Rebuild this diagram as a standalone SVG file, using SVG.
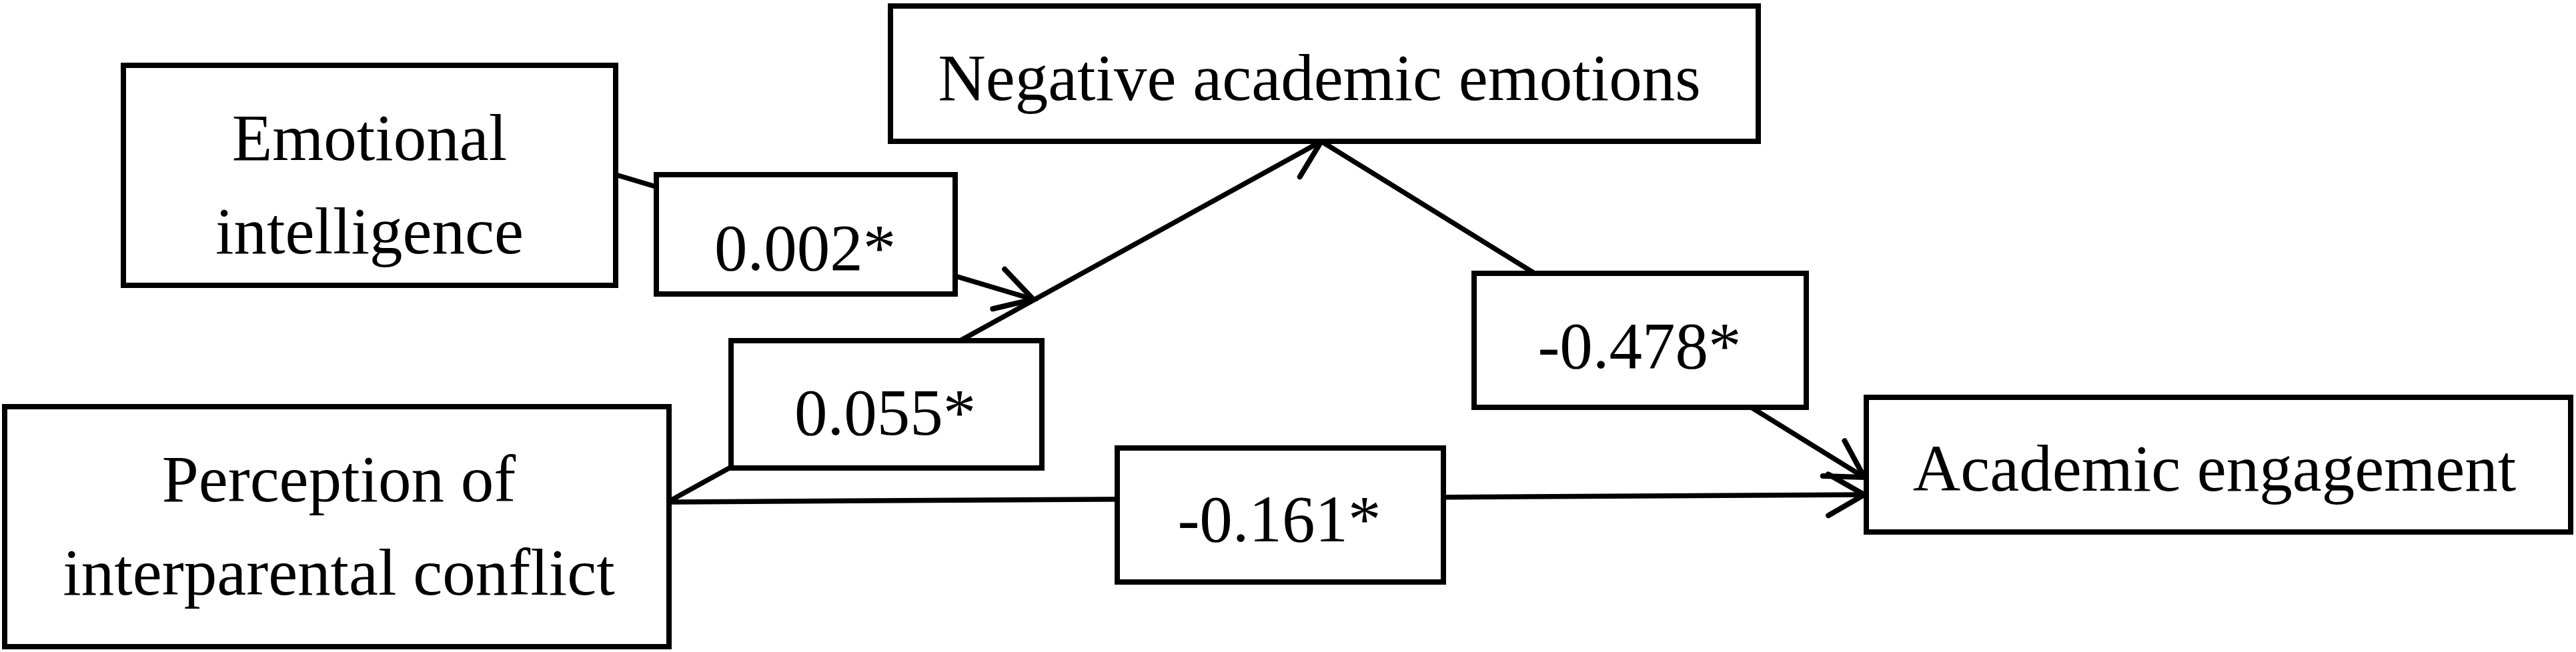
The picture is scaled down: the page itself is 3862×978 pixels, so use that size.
<svg xmlns="http://www.w3.org/2000/svg" width="3862" height="978" viewBox="0 0 3862 978">
<style>
.box{fill:#fff;stroke:#000;stroke-width:8}
.lbl{font-family:"Liberation Serif","Times New Roman",serif;font-size:99px;fill:#000;text-anchor:middle}
.conn{stroke:#000;stroke-width:7.5;fill:none}
</style>
<defs>
<marker id="arr" markerUnits="userSpaceOnUse" viewBox="-66 -42 76 84" markerWidth="76" markerHeight="84" refX="0" refY="0" orient="auto">
<path d="M-54,-31 L0,0 L-54,31" fill="none" stroke="#000" stroke-width="8" stroke-linecap="round" stroke-linejoin="miter"/>
</marker>
</defs>
<rect width="3862" height="978" fill="#fff"/>
<g id="connectors">
<line class="conn" x1="923" y1="262" x2="1549" y2="449" marker-end="url(#arr)"/>
<line class="conn" x1="1003" y1="752" x2="1981" y2="212" marker-end="url(#arr)"/>
<line class="conn" x1="1981" y1="212" x2="2795" y2="716" marker-end="url(#arr)"/>
<line class="conn" x1="1003" y1="753" x2="2795" y2="742" marker-end="url(#arr)"/>
</g>
<g id="node-emotional">
<rect class="box" x="185" y="98" width="738" height="330"/>
<text class="lbl" x="554" y="240">Emotional</text>
<text class="lbl" x="554" y="380">intelligence</text>
</g>
<g id="node-perception">
<rect class="box" x="7" y="610" width="996" height="360"/>
<text class="lbl" x="508" y="752">Perception of</text>
<text class="lbl" x="508" y="892">interparental conflict</text>
</g>
<g id="node-negative">
<rect class="box" x="1335" y="9" width="1301" height="203"/>
<text class="lbl" x="1978" y="150">Negative academic emotions</text>
</g>
<g id="node-academic">
<rect class="box" x="2798" y="596" width="1056" height="202"/>
<text class="lbl" x="3320" y="736">Academic engagement</text>
</g>
<g id="label-0002">
<rect class="box" x="984" y="262" width="448" height="179"/>
<text class="lbl" x="1207" y="405">0.002*</text>
</g>
<g id="label-0055">
<rect class="box" x="1096" y="511" width="466" height="191"/>
<text class="lbl" x="1327" y="652">0.055*</text>
</g>
<g id="label-0161">
<rect class="box" x="1675" y="672" width="489" height="201"/>
<text class="lbl" x="1918" y="812">-0.161*</text>
</g>
<g id="label-0478">
<rect class="box" x="2210" y="410" width="498" height="201"/>
<text class="lbl" x="2458" y="552">-0.478*</text>
</g>
</svg>
